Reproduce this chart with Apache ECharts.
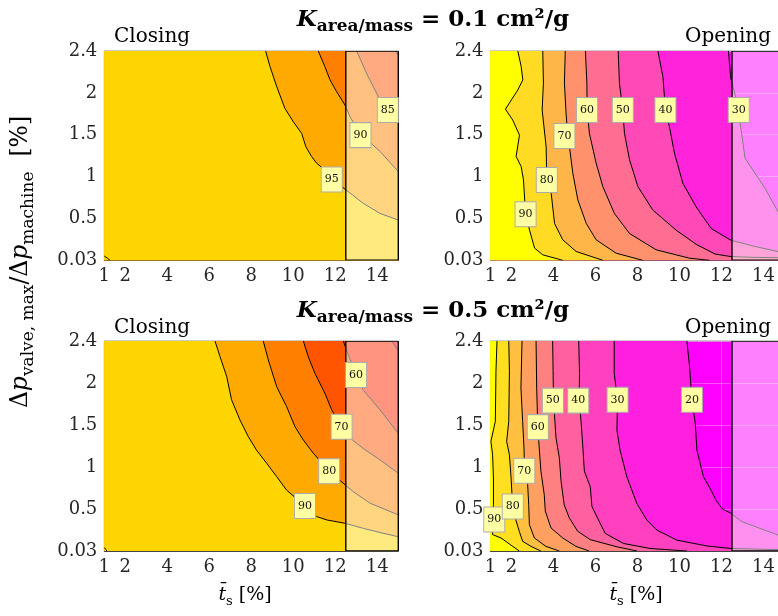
<!DOCTYPE html>
<html><head><meta charset="utf-8">
<script src="https://cdn.jsdelivr.net/npm/echarts@6/dist/echarts.min.js"></script>
<style>html,body{margin:0;padding:0;background:#fff}#c{width:778px;height:616px}</style>
</head><body><div id="c"></div>
<script>
// ---------- axes ----------
const xTickValues = [1, 2, 4, 6, 8, 10, 12, 14];
const xMin = 1, xMax = 15;
const yTickLabels = ['0.03', '0.5', '1', '1.5', '2', '2.4']; // equally spaced rows (index 0..5)
const fadeFrom = 12.5;

// ---------- Top-left: Closing, K = 0.1 ----------
const tlLevels = [80, 85, 90, 95];
const tlC80 = [[14.84,5],[15,4.9]];
const tlC85 = [[13.02,5],[13.5,4.45],[14.05,3.91],[14.5,3.62],[15,3.43]];
const tlC90 = [[11.19,5],[11.5,4.63],[11.75,4.31],[12.06,4.03],[12.46,3.71],[12.7,3.43],[13.15,3.05],[14.13,2.6],[15,2.12]];
const tlC95 = [[8.68,5],[8.89,4.63],[9.21,4.15],[9.6,3.63],[10.0,3.31],[10.4,3.03],[10.6,2.71],[10.87,2.48],[11.11,2.32],[11.35,2.22],[11.83,1.95],[12.46,1.70],[13.33,1.36],[14.13,1.12],[15,0.96]];
const tlCorner = [[1,0.1],[1.15,0.05],[1.27,0]];
const tlLabels = [[11.83,1.93,95],[13.2,2.99,90],[14.5,3.59,85]];

// ---------- Top-right: Opening, K = 0.1 ----------
const trLevels = [30, 40, 50, 60, 70, 80, 90];
const trC30 = [[12.33,5],[12.44,4.35],[12.6,4.05],[12.82,3.59],[12.88,3.31],[13.12,2.44],[14.07,1.72],[14.69,1.16],[15,0.95]];
const trC40 = [[8.97,5],[9.21,4.39],[9.33,3.59],[9.52,3.19],[9.76,2.56],[10.16,1.84],[10.79,1.28],[11.51,0.76],[12.44,0.48],[13.6,0.33],[14.69,0.21],[15,0.18]];
const trC50 = [[7.08,5],[7.14,4.23],[7.30,3.59],[7.38,3.03],[7.62,2.40],[8.02,1.76],[8.73,1.20],[9.84,0.72],[10.8,0.38],[11.69,0.15],[12.44,0.09],[13.5,0.07],[15,0.06]];
const trC60 = [[5.52,5],[5.59,4.23],[5.60,3.59],[5.71,3.03],[6.03,2.32],[6.35,1.76],[6.90,1.12],[7.62,0.64],[8.89,0.25],[10.48,0.05],[11.43,0]];
const trC70 = [[4.56,5],[4.52,4.23],[4.6,3.5],[4.68,2.97],[4.76,2.71],[4.92,2.08],[5.16,1.44],[5.56,0.88],[6.03,0.49],[6.98,0.17],[8.25,0]];
const trC80 = [[3.49,5],[3.52,4.23],[3.46,3.59],[3.65,2.71],[3.68,1.92],[3.89,1.60],[4.05,0.88],[4.44,0.49],[5.08,0.21],[6.35,0]];
const trC90 = [[2.30,5],[2.46,4.63],[2.54,4.31],[2.30,4.07],[1.71,3.61],[2.06,3.35],[2.38,2.99],[2.22,2.48],[2.46,2.24],[2.57,1.92],[2.67,1.1],[2.86,0.72],[3.10,0.29],[3.49,0.13],[4.44,0]];
const trLabels = [[2.67,1.10,90],[3.68,1.92,80],[4.52,2.97,70],[5.60,3.59,60],[7.30,3.59,50],[9.33,3.59,40],[12.82,3.59,30]];

// ---------- Bottom-left: Closing, K = 0.5 ----------
const blLevels = [50, 60, 70, 80, 90];
const blC50 = [[14.69,5],[15,4.76]];
const blC60 = [[12.38,5],[12.6,4.7],[12.98,4.19],[13.33,3.83],[14.13,3.36],[15,2.80]];
const blC70 = [[10.48,5],[10.71,4.63],[11.03,4.23],[11.51,3.75],[11.83,3.36],[12.27,2.98],[12.7,2.69],[13.33,2.44],[14.13,2.17],[15,1.85]];
const blC80 = [[8.57,5],[8.81,4.55],[9.21,3.91],[9.68,3.44],[10.08,2.96],[10.48,2.64],[10.95,2.33],[11.71,1.90],[12.22,1.68],[12.46,1.58],[12.86,1.41],[13.65,1.14],[15,0.86]];
const blC90 = [[6.27,5],[6.51,4.63],[6.83,4.15],[7.06,3.60],[7.46,3.12],[7.86,2.72],[8.25,2.40],[8.73,2.09],[9.21,1.77],[9.68,1.45],[10.56,1.07],[11.11,0.82],[11.59,0.74],[12.46,0.66],[13.33,0.54],[14.13,0.44],[15,0.34]];
const blCorner = [[1,0.08],[1.08,0.03],[1.12,0]];
const blLabels = [[10.56,1.07,90],[11.71,1.90,80],[12.3,2.96,70],[12.98,4.19,60]];

// ---------- Bottom-right: Opening, K = 0.5 ----------
const brLevels = [20, 30, 40, 50, 60, 70, 80, 90];
const brC20 = [[10.35,5],[10.48,4.39],[10.59,3.6],[10.75,3.04],[10.83,2.40],[11.14,1.77],[11.5,1.45],[11.75,1.2],[12.05,1.0],[12.44,0.90],[12.64,0.82],[12.96,0.70],[14.69,0.38],[15,0.35]];
const brC30 = [[6.89,5],[6.89,4.23],[7.05,3.6],[7.02,2.88],[7.17,2.40],[7.49,1.77],[7.97,1.13],[8.44,0.74],[8.92,0.5],[9.87,0.26],[11.3,0.12],[12.44,0.06],[15,0.03]];
const brC40 = [[5.2,5],[5.24,4.23],[5.22,3.58],[5.31,3.09],[5.39,2.53],[5.47,1.90],[5.75,1.53],[5.83,1.06],[6.14,0.74],[6.46,0.42],[7.33,0.18],[8.60,0.06],[10.35,0]];
const brC50 = [[3.96,5],[3.98,4.3],[4.0,3.58],[4.12,2.69],[4.28,2.21],[4.36,1.66],[4.51,1.10],[4.75,0.79],[5.15,0.47],[5.75,0.27],[7.02,0.10],[7.97,0]];
const brC60 = [[3.17,5],[3.2,3.88],[3.25,2.95],[3.32,2.45],[3.40,1.90],[3.56,1.34],[3.61,0.95],[3.88,0.55],[4.44,0.31],[5.07,0.11],[5.70,0]];
const brC70 = [[2.5,5],[2.45,3.88],[2.53,3.09],[2.6,2.4],[2.61,1.91],[2.77,1.58],[2.82,1.10],[2.85,0.63],[3.09,0.31],[3.64,0.11],[4.28,0]];
const brC80 = [[1.87,5],[1.90,4.28],[1.87,3.09],[1.77,2.61],[1.90,2.29],[1.98,1.74],[2.05,1.1],[2.2,0.75],[2.37,0.47],[2.53,0.23],[2.93,0.11],[3.40,0]];
const brC90 = [[1.31,5],[1.26,4.28],[1.23,3.09],[1.02,2.61],[1.10,2.29],[1.14,1.74],[1.14,1.10],[1.08,0.55],[1.10,0.39],[1.5,0.31],[2.06,0.11],[2.37,0]];
const brLabels = [[1.18,0.75,90],[2.06,1.06,80],[2.61,1.91,70],[3.25,2.95,60],[3.97,3.58,50],[5.18,3.58,40],[7.05,3.6,30],[10.59,3.6,20]];

// ---------- styles ----------
const FONT = 'DejaVu Serif';
const autumn = ['#FF0000','#FF2B00','#FF5500','#FF8000','#FFAA00','#FFD500'];
const tlColors = autumn.slice(1);           // base(<80), 80, 85, 90, 95
const blColors = autumn.slice(0);           // base(<50), 50 ... 90
const trColors = ['#FF00FF','#FF24DB','#FF49B6','#FF6D92','#FF926D','#FFB649','#FFDB24','#FFFF00'];
const brColors = ['#FF00FF','#FF20DF','#FF40BF','#FF609F','#FF8080','#FF9F60','#FFBF40','#FFDF20','#FFFF00'];

const panels = [
  {grid:{left:104.3, top:51, width:294, height:209.3}, contours:[tlC80,tlC85,tlC90,tlC95], colors:tlColors, labels:tlLabels, extra:[tlCorner]},
  {grid:{left:490.5, top:51, width:294, height:209.3}, contours:[trC30,trC40,trC50,trC60,trC70,trC80,trC90], colors:trColors, labels:trLabels, extra:[]},
  {grid:{left:104.3, top:341, width:294, height:210}, contours:[blC50,blC60,blC70,blC80,blC90], colors:blColors, labels:blLabels, extra:[blCorner]},
  {grid:{left:490.5, top:341, width:294, height:210}, contours:[brC20,brC30,brC40,brC50,brC60,brC70,brC80,brC90], colors:brColors, labels:brLabels, extra:[]}
];

function highSide(pts) {
  const out = pts.slice();
  const last = pts[pts.length - 1];
  if (last[1] > 0) out.push([xMax, 0]);
  out.push([xMin, 0], [xMin, 5]);
  return out;
}
function polySeries(gi, poly, z, style) {
  return {type:'custom', xAxisIndex:gi, yAxisIndex:gi, z, silent:true, animation:false, clip:true,
    data:poly,
    renderItem:(params, api) => {
      if (params.dataIndex !== 0) return null;
      return {type:'polygon', shape:{points:poly.map(q => api.coord(q))}, style};
    }};
}

const grids = [], xAxes = [], yAxes = [], series = [];
panels.forEach((p, gi) => {
  grids.push(Object.assign({show:true, backgroundColor:p.colors[0], borderColor:'#9a9a9a', borderWidth:1, outerBoundsMode:'none', containLabel:false}, p.grid));
  xAxes.push({gridIndex:gi, type:'value', min:xMin, max:xMax,
    axisLine:{show:true, onZero:false, lineStyle:{color:'#444', width:1}},
    axisTick:{show:false},
    splitLine:{show:true, lineStyle:{color:'rgba(255,255,255,0.3)', width:1}},
    axisLabel:{customValues:xTickValues, fontFamily:FONT, fontSize:18, color:'#262626', margin:7}});
  yAxes.push({gridIndex:gi, type:'value', min:0, max:5, interval:1,
    axisLine:{show:true, onZero:false, lineStyle:{color:'#9a9a9a', width:1}},
    axisTick:{show:false},
    splitLine:{show:true, lineStyle:{color:'rgba(255,255,255,0.3)', width:1}},
    axisLabel:{formatter:v => yTickLabels[Math.round(v)], fontFamily:FONT, fontSize:18, color:'#262626', margin:7}});
  // filled regions (painter's order, low level first)
  p.contours.forEach((pts, i) => {
    const fill = p.colors[i + 1];
    series.push(polySeries(gi, highSide(pts), 1, {fill, stroke:fill, lineWidth:0.6}));
  });
  // contour lines
  p.contours.concat(p.extra).forEach(pts => {
    series.push({type:'line', xAxisIndex:gi, yAxisIndex:gi, data:pts, symbol:'none', z:3, silent:true, animation:false,
      lineStyle:{color:'#000', width:1}});
  });
  // faded region beyond fadeFrom
  series.push(polySeries(gi, [[fadeFrom,0],[xMax,0],[xMax,5],[fadeFrom,5]], 5,
    {fill:'rgba(255,255,255,0.5)', stroke:'#000', lineWidth:1.4}));
  // contour labels
  series.push({type:'scatter', xAxisIndex:gi, yAxisIndex:gi, z:10, silent:true, animation:false, clip:false,
    data:p.labels, symbol:'rect', symbolSize:[21, 25],
    itemStyle:{color:'#FFFFA3', borderColor:'#ABABAB', borderWidth:1, opacity:1},
    label:{show:true, position:'inside', formatter:q => String(q.value[2]), fontFamily:FONT, fontSize:11, color:'#111'}});
});

function titleText(val, x, y) {
  return {type:'text', x, y, z:50, style:{
    text:'{k|K}{s|area/mass}{n| = ' + val + ' cm²/g}', align:'center', verticalAlign:'middle',
    rich:{
      k:{fontFamily:FONT, fontSize:23, fontWeight:'bold', fontStyle:'italic', lineHeight:30, verticalAlign:'middle', fill:'#000'},
      s:{fontFamily:FONT, fontSize:17, fontWeight:'bold', lineHeight:12, verticalAlign:'bottom', fill:'#000'},
      n:{fontFamily:FONT, fontSize:23, fontWeight:'bold', lineHeight:30, verticalAlign:'middle', fill:'#000'}
    }}};
}
function plainText(t, x, y, align) {
  return {type:'text', x, y, z:50, style:{text:t, fontFamily:FONT, fontSize:20, fill:'#000', align, verticalAlign:'middle'}};
}
function xName(x, y) {
  return {type:'text', x, y, z:50, style:{
    text:'{t|t\u0304}{s|s}{n| [%]}', align:'center', verticalAlign:'middle',
    rich:{
      t:{fontFamily:FONT, fontSize:19, fontStyle:'italic', lineHeight:26, verticalAlign:'middle', fill:'#000'},
      s:{fontFamily:FONT, fontSize:13, lineHeight:10, verticalAlign:'bottom', fill:'#000'},
      n:{fontFamily:FONT, fontSize:19, lineHeight:26, verticalAlign:'middle', fill:'#000'}
    }}};
}
const yName = {type:'text', x:21, y:262, rotation:Math.PI / 2, z:50, style:{
  text:'{d|Δ}{p|p}{s|valve, max}{d|/Δ}{p|p}{s|machine}{d|  [%]}', align:'center', verticalAlign:'middle',
  rich:{
    d:{fontFamily:FONT, fontSize:23.5, lineHeight:32, verticalAlign:'middle', fill:'#000'},
    p:{fontFamily:FONT, fontSize:23.5, fontStyle:'italic', lineHeight:32, verticalAlign:'middle', fill:'#000'},
    s:{fontFamily:FONT, fontSize:17, lineHeight:13, verticalAlign:'bottom', fill:'#000'}
  }}};

const chart = echarts.init(document.getElementById('c'), null, {renderer:'canvas'});
chart.setOption({
  animation:false,
  backgroundColor:'#fff',
  grid:grids, xAxis:xAxes, yAxis:yAxes, series,
  graphic:[
    titleText('0.1', 433, 20), titleText('0.5', 433, 311),
    plainText('Closing', 114, 37, 'left'), plainText('Opening', 771, 37, 'right'),
    plainText('Closing', 114, 328, 'left'), plainText('Opening', 771, 328, 'right'),
    xName(245, 595), xName(636, 595), yName
  ]
});
</script></body></html>
